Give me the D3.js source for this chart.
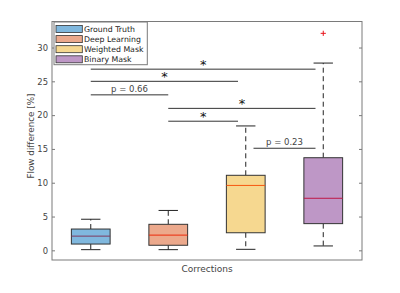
<!DOCTYPE html>
<html>
<head>
<meta charset="utf-8">
<script src="https://cdn.jsdelivr.net/npm/d3@7"></script>
<style>
  html, body { margin: 0; padding: 0; background: #fff; }
  svg { display: block; font-family: "DejaVu Sans", sans-serif; }
</style>
</head>
<body>
<svg id="chart" width="400" height="293"></svg>
<script>
// ---- data ----
const categories = ["Ground Truth", "Deep Learning", "Weighted Mask", "Binary Mask"];
const whiskerLow  = [0.1, 0.1, 0.15, 0.65];
const q1          = [0.93, 0.75, 2.6, 3.95];
const medians     = [2.1, 2.25, 9.6, 7.7];
const q3          = [3.15, 3.85, 11.1, 13.7];
const whiskerHigh = [4.6, 5.9, 18.4, 27.7];
const outlierCat  = [4];
const outlierVal  = [32.1];
const fillColors  = ["#80b8de", "#eca98c", "#f6d890", "#be97c6"];
const medianColors = ["#7f3a5e", "#ec2a0c", "#f65810", "#be1747"];

// significance comparisons
const compFrom  = [1, 1, 1, 2, 2, 3.1];
const compTo    = [3.9, 2.9, 2, 3.9, 2.9, 3.9];
const compLevel = [26.8, 25.0, 23.0, 21.0, 19.1, 15.1];
const compLabel = ["*", "*", "p = 0.66", "*", "*", "p = 0.23"];

const yTicks = [0, 5, 10, 15, 20, 25, 30];

// ---- layout ----
const svg = d3.select("#chart");
const L = 52, R = 362, T = 21.5, B = 260;
const x = d3.scaleLinear().domain([0.5, 4.5]).range([L, R]);
const y = d3.scaleLinear().domain([-1.43, 33.85]).range([B, T]);
const axisCol = "#7a7a7a", textCol = "#444";

// axes box
svg.append("rect").attr("x", L).attr("y", T).attr("width", R - L).attr("height", B - T)
  .attr("fill", "none").attr("stroke", axisCol).attr("stroke-width", 1);

const yAxisL = svg.append("g").attr("transform", `translate(${L},0)`)
  .call(d3.axisLeft(y).tickValues(yTicks).tickSize(-3).tickPadding(4));
const yAxisR = svg.append("g").attr("transform", `translate(${R},0)`)
  .call(d3.axisRight(y).tickValues(yTicks).tickSize(-3).tickFormat(""));
[yAxisL, yAxisR].forEach(g => {
  g.select(".domain").remove();
  g.selectAll(".tick line").attr("stroke", axisCol);
  g.selectAll(".tick text").attr("fill", textCol).style("font-size", "8.4px")
    .style("font-family", "DejaVu Sans");
});

// labels
svg.append("text").attr("transform", "translate(33.5,136) rotate(-90)")
  .attr("text-anchor", "middle").attr("fill", textCol).style("font-size", "8.8px")
  .text("Flow difference [%]");
svg.append("text").attr("x", 207).attr("y", 272).attr("text-anchor", "middle")
  .attr("fill", textCol).style("font-size", "9px").text("Corrections");

// boxes
const bw = 0.5, cw = 0.25;
const g = svg.append("g");
categories.forEach((c, i) => {
  const cx = x(i + 1);
  const hw = (x(bw) - x(0)) / 2, hc = (x(cw) - x(0)) / 2;
  g.append("line").attr("x1", cx).attr("x2", cx).attr("y1", y(q3[i])).attr("y2", y(whiskerHigh[i]))
    .attr("stroke", "#222").attr("stroke-dasharray", "5,3.5");
  g.append("line").attr("x1", cx).attr("x2", cx).attr("y1", y(q1[i])).attr("y2", y(whiskerLow[i]))
    .attr("stroke", "#222").attr("stroke-dasharray", "5,3.5");
  [whiskerHigh[i], whiskerLow[i]].forEach(v => {
    g.append("line").attr("x1", cx - hc).attr("x2", cx + hc).attr("y1", y(v)).attr("y2", y(v))
      .attr("stroke", "#222");
  });
  g.append("rect").attr("x", cx - hw).attr("y", y(q3[i])).attr("width", 2 * hw)
    .attr("height", y(q1[i]) - y(q3[i])).attr("fill", fillColors[i])
    .attr("stroke", "#333").attr("stroke-width", 1);
  g.append("line").attr("x1", cx - hw).attr("x2", cx + hw).attr("y1", y(medians[i])).attr("y2", y(medians[i]))
    .attr("stroke", medianColors[i]).attr("stroke-width", 1);
});
outlierCat.forEach((c, k) => {
  const px = x(c), py = y(outlierVal[k]);
  g.append("path").attr("d", `M${px - 2.6},${py}H${px + 2.6}M${px},${py - 2.6}V${py + 2.6}`)
    .attr("stroke", "#e8141c").attr("stroke-width", 1).attr("fill", "none");
});

// significance lines
compFrom.forEach((f, k) => {
  const x1 = x(f), x2 = x(compTo[k]), yy = y(compLevel[k]);
  svg.append("line").attr("x1", x1).attr("x2", x2).attr("y1", yy).attr("y2", yy)
    .attr("stroke", "#333").attr("stroke-width", 1);
  const mid = (x1 + x2) / 2;
  if (compLabel[k] === "*") {
    svg.append("text").attr("x", mid).attr("y", yy - 0.2).attr("text-anchor", "middle")
      .attr("fill", "#111").style("font-size", "13px").text("*");
  } else {
    svg.append("text").attr("x", mid).attr("y", yy - 3).attr("text-anchor", "middle")
      .attr("fill", textCol).style("font-size", "8.5px").text(compLabel[k]);
  }
});

// legend
const lg = svg.append("g");
lg.append("rect").attr("x", 54).attr("y", 22).attr("width", 93.3).attr("height", 42.7)
  .attr("fill", "#fff").attr("stroke", axisCol).attr("stroke-width", 1);
categories.forEach((c, i) => {
  const cy = 29 + i * 10.1;
  lg.append("rect").attr("x", 56).attr("y", cy - 3.5).attr("width", 26.3).attr("height", 7)
    .attr("fill", fillColors[i]).attr("stroke", "#333").attr("stroke-width", 0.8);
  lg.append("text").attr("x", 84).attr("y", cy + 2.9).attr("fill", "#222")
    .style("font-size", "7.8px").text(c);
});
</script>
</body>
</html>
